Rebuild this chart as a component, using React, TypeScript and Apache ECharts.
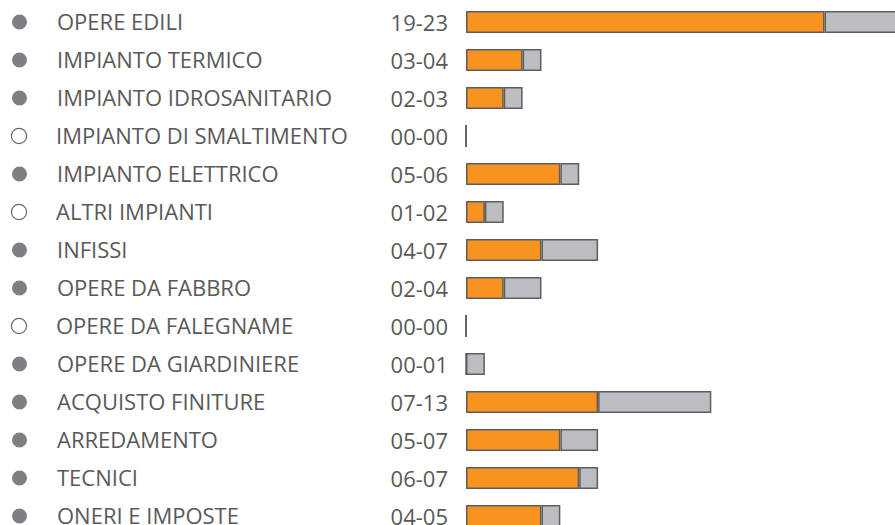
import React, { useEffect, useRef } from "react";
import * as echarts from "echarts";

const categories = [
  "OPERE EDILI",
  "IMPIANTO TERMICO",
  "IMPIANTO IDROSANITARIO",
  "IMPIANTO DI SMALTIMENTO",
  "IMPIANTO ELETTRICO",
  "ALTRI IMPIANTI",
  "INFISSI",
  "OPERE DA FABBRO",
  "OPERE DA FALEGNAME",
  "OPERE DA GIARDINIERE",
  "ACQUISTO FINITURE",
  "ARREDAMENTO",
  "TECNICI",
  "ONERI E IMPOSTE",
];
const minValues = [19, 3, 2, 0, 5, 1, 4, 2, 0, 0, 7, 5, 6, 4];
const maxValues = [23, 4, 3, 0, 6, 2, 7, 4, 0, 1, 13, 7, 7, 5];
const markerFilled = [true, true, true, false, true, false, true, true, false, true, true, true, true, true];

const pad2 = (n: number) => (n < 10 ? "0" + n : String(n));
const rangeLabels = minValues.map((m, i) => pad2(m) + "-" + pad2(maxValues[i]));

const FONT = "Open Sans";
const TEXT = "#595959";

export default function App() {
  const ref = useRef<HTMLDivElement>(null);
  useEffect(() => {
    if (!ref.current) return;
    const chart = echarts.init(ref.current, undefined, { renderer: "svg" });
    chart.setOption({
      animation: false,
      backgroundColor: "#ffffff",
      grid: {
        left: 466,
        top: 3,
        width: 434,
        height: 532,
        containLabel: false,
        outerBoundsMode: "none",
      },
      xAxis: {
        type: "value",
        min: 0,
        max: 23,
        show: false,
      },
      yAxis: [
        {
          type: "category",
          data: categories,
          inverse: true,
          position: "left",
          axisLine: { show: false },
          axisTick: { show: false },
          splitLine: { show: false },
          axisLabel: {
            align: "left",
            margin: 454,
            formatter: (v: string, i: number) =>
              `{${markerFilled[i] ? "f" : "e"}|}{n|${v}}`,
            rich: {
              f: {
                width: 15,
                height: 15,
                borderRadius: 8,
                backgroundColor: "#7f7f83",
              },
              e: {
                width: 14,
                height: 14,
                borderRadius: 8,
                backgroundColor: "#ffffff",
                borderColor: "#666666",
                borderWidth: 1.2,
              },
              n: {
                fontFamily: FONT,
                fontSize: 22,
                lineHeight: 26,
                color: TEXT,
                padding: [0, 0, 2, 30],
              },
            },
          },
        },
        {
          type: "category",
          data: rangeLabels,
          inverse: true,
          position: "left",
          offset: 0,
          axisLine: { show: false },
          axisTick: { show: false },
          splitLine: { show: false },
          axisLabel: {
            margin: 18,
            fontFamily: FONT,
            fontSize: 22,
            lineHeight: 26,
            padding: [0, 0, 2, 0],
            color: TEXT,
          },
        },
      ],
      series: [
        {
          type: "bar",
          stack: "r",
          yAxisIndex: 0,
          barWidth: 22,
          data: minValues,
          itemStyle: { color: "#F7931E", borderColor: "#5e5e5e", borderWidth: 1.5 },
        },
        {
          type: "bar",
          stack: "r",
          yAxisIndex: 0,
          barWidth: 22,
          data: maxValues.map((m, i) => m - minValues[i]),
          itemStyle: { color: "#BCBDC1", borderColor: "#5e5e5e", borderWidth: 1.5 },
        },
      ],
    });
    return () => chart.dispose();
  }, []);
  return <div ref={ref} style={{ width: 895, height: 525, position: "absolute", left: 0, top: 0 }} />;
}
